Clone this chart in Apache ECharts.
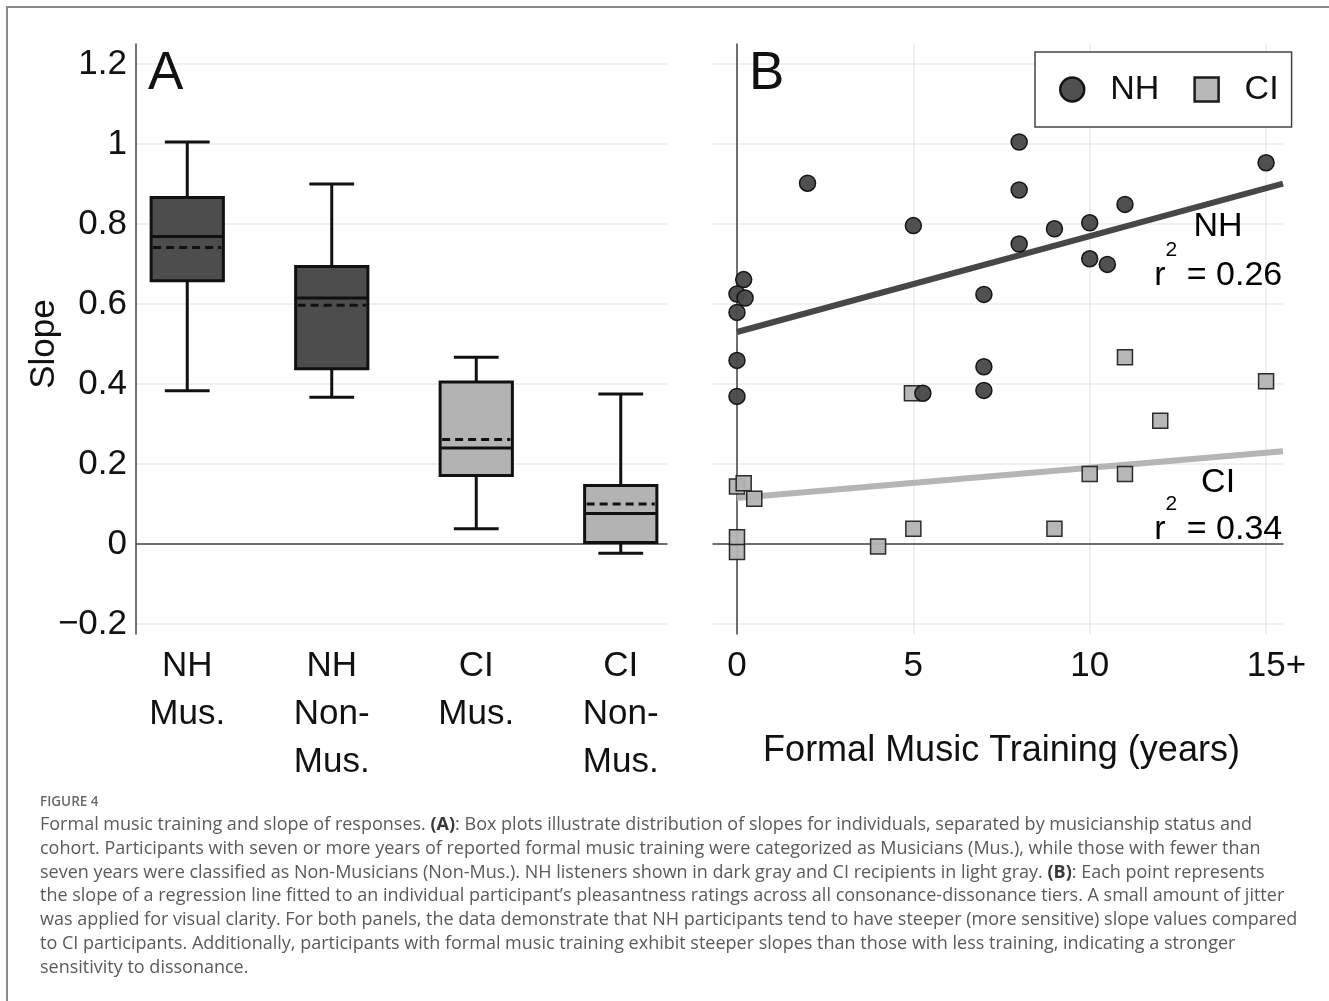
<!DOCTYPE html>
<html><head><meta charset="utf-8">
<script src="https://cdn.jsdelivr.net/npm/echarts@6/dist/echarts.min.js"></script>
<style>html,body{margin:0;padding:0;background:#fff}#c{width:1329px;height:1001px}</style>
</head><body><div id="c"></div>
<script>
// ---------- data ----------
const boxCategories = ['NH\nMus.', 'NH\nNon-\nMus.', 'CI\nMus.', 'CI\nNon-\nMus.'];
const boxCohort = ['NH', 'NH', 'CI', 'CI'];
const boxLow    = [0.383, 0.367, 0.038, -0.023];
const boxQ1     = [0.658, 0.438, 0.171, 0.004];
const boxMedian = [0.769, 0.615, 0.240, 0.076];
const boxQ3     = [0.866, 0.694, 0.405, 0.146];
const boxHigh   = [1.005, 0.900, 0.467, 0.375];
const boxMean   = [0.741, 0.597, 0.261, 0.100];

const nhYears  = [8, 2, 15, 8, 11, 5, 9, 10, 8, 10, 10.5, 0.19, 0, 0.23, 0, 7, 0, 7, 0, 7, 5.27];
const nhSlopes = [1.005, 0.902, 0.953, 0.885, 0.849, 0.796, 0.788, 0.803, 0.750, 0.713, 0.699, 0.661, 0.625, 0.615, 0.579, 0.624, 0.459, 0.443, 0.369, 0.384, 0.377];
const ciYears  = [11, 15, 4.96, 12, 10, 11, 0, 0.19, 0.49, 5, 9, 4, 0, 0];
const ciSlopes = [0.467, 0.407, 0.377, 0.308, 0.175, 0.175, 0.144, 0.152, 0.113, 0.038, 0.038, -0.006, 0.017, -0.020];

const nhFitYears = [0, 15.48];
const nhFitSlopes = [0.530, 0.901];
const ciFitYears = [0, 15.48];
const ciFitSlopes = [0.115, 0.232];

const fitNames = ['NH', 'CI'];
const fitR2 = ['0.26', '0.34'];

const slopeTickLabels = ['\u22120.2', '0', '0.2', '0.4', '0.6', '0.8', '1', '1.2'];
const yearTickLabels = ['0', '5', '10', '15+'];

// ---------- styles / layout ----------
const FONT = 'Liberation Sans';
const C = {
  ink: '#000', axis: '#444', grid: '#ebebeb',
  nhFill: '#4a4a4a', ciFill: '#b3b3b3',
  nhLine: '#474747', ciLine: '#b5b5b5'
};
const cohortFill = { NH: '#4d4d4d', CI: '#b3b3b3' };
// annotation anchors (data units of panel B)
const nameAnchorX = 13.64, nameAnchorY = [0.7925, 0.1525];
const r2AnchorY = [0.695, 0.059];

function renderBox(params, api) {
  const i = api.value(0);
  const lo = api.coord([i, api.value(1)]);
  const q1 = api.coord([i, api.value(2)]);
  const md = api.coord([i, api.value(3)]);
  const q3 = api.coord([i, api.value(4)]);
  const hi = api.coord([i, api.value(5)]);
  const mn = api.coord([i, api.value(6)]);
  const band = api.size([1, 0])[0];
  const bw = band * 0.5, cw = band * 0.31;
  const cx = lo[0];
  const fill = cohortFill[boxCohort[params.dataIndex]];
  const ls = { stroke: '#111', lineWidth: 3 };
  return {
    type: 'group', children: [
      { type: 'line', shape: { x1: cx, y1: q3[1], x2: cx, y2: hi[1] }, style: ls },
      { type: 'line', shape: { x1: cx, y1: q1[1], x2: cx, y2: lo[1] }, style: ls },
      { type: 'line', shape: { x1: cx - cw / 2, y1: hi[1], x2: cx + cw / 2, y2: hi[1] }, style: ls },
      { type: 'line', shape: { x1: cx - cw / 2, y1: lo[1], x2: cx + cw / 2, y2: lo[1] }, style: ls },
      { type: 'rect', shape: { x: cx - bw / 2, y: q3[1], width: bw, height: q1[1] - q3[1] }, style: { fill: fill, stroke: '#111', lineWidth: 3 } },
      { type: 'line', shape: { x1: cx - bw / 2, y1: md[1], x2: cx + bw / 2, y2: md[1] }, style: ls },
      { type: 'line', shape: { x1: cx - bw / 2 + 2, y1: mn[1], x2: cx + bw / 2 - 2, y2: mn[1] }, style: { stroke: '#111', lineWidth: 3, lineDash: [8, 5] } }
    ]
  };
}

const hiddenVal = (g) => ({ gridIndex: g, type: 'value', show: false, min: 0, max: 1 });
const frameLine = { show: true, onZero: true, lineStyle: { color: C.axis, width: 1.5 } };
const noTick = { show: false };
const noLabel = { show: false };
const noSplit = { show: false };
const gridSplit = { show: true, lineStyle: { color: C.grid, width: 1.5 } };

const caption =
  'Formal music training and slope of responses. {b|(A)}: Box plots illustrate distribution of slopes for individuals, separated by musicianship status and\n' +
  'cohort. Participants with seven or more years of reported formal music training were categorized as Musicians (Mus.), while those with fewer than\n' +
  'seven years were classified as Non-Musicians (Non-Mus.). NH listeners shown in dark gray and CI recipients in light gray. {b|(B)}: Each point represents\n' +
  'the slope of a regression line fitted to an individual participant\u2019s pleasantness ratings across all consonance-dissonance tiers. A small amount of jitter\n' +
  'was applied for visual clarity. For both panels, the data demonstrate that NH participants tend to have steeper (more sensitive) slope values compared\n' +
  'to CI participants. Additionally, participants with formal music training exhibit steeper slopes than those with less training, indicating a stronger\n' +
  'sensitivity to dissonance.';

const option = {
  animation: false,
  backgroundColor: '#fff',
  textStyle: { fontFamily: FONT },
  grid: [
    { left: 115, top: 44, width: 578, height: 590 },   // 0 A boxes
    { left: 136, top: 44, width: 531, height: 590 },   // 1 A frame
    { left: 136, top: 64, width: 531, height: 560 },   // 2 A ticks
    { left: 713, top: 44, width: 570, height: 590 },   // 3 B data
    { left: 713, top: 64, width: 570, height: 560 },   // 4 B horizontal grid
    { left: 737, top: 44, width: 529, height: 590 }    // 5 B vertical grid + ticks
  ],
  xAxis: [
    { gridIndex: 0, type: 'category', data: boxCategories, axisLine: { show: false }, axisTick: noTick, splitLine: noSplit,
      axisLabel: { interval: 0, fontSize: 35, lineHeight: 48, color: '#111', margin: 8, fontFamily: FONT } },
    { gridIndex: 1, type: 'value', min: 0, max: 1, z: 1, axisLine: frameLine, axisTick: noTick, axisLabel: noLabel, splitLine: noSplit },
    hiddenVal(2),
    { gridIndex: 3, type: 'value', min: -0.68, max: 15.48, z: 1, axisLine: frameLine, axisTick: noTick, axisLabel: noLabel, splitLine: noSplit },
    hiddenVal(4),
    { gridIndex: 5, type: 'value', min: 0, max: 15, interval: 5, z: 0,
      axisLine: { show: false, onZero: false }, axisTick: noTick, splitLine: gridSplit,
      axisLabel: { fontSize: 35, lineHeight: 48, color: '#111', margin: 8, fontFamily: FONT,
        formatter: v => {
          const s = yearTickLabels[Math.round(v / 5)];
          return s.endsWith('+') ? '{p|' + s + '}' : s;
        },
        rich: { p: { fontSize: 35, lineHeight: 48, color: '#111', fontFamily: FONT, padding: [0, 0, 0, 21] } } },
      name: 'Formal Music Training (years)', nameLocation: 'middle', nameGap: 99, nameMoveOverlap: false,
      nameTextStyle: { fontSize: 36, color: '#111', fontFamily: FONT, lineHeight: 36 } }
  ],
  yAxis: [
    { gridIndex: 0, type: 'value', min: -0.225, max: 1.25, show: false },
    { gridIndex: 1, type: 'value', min: -0.225, max: 1.25, z: 1, axisLine: { show: true, onZero: false, lineStyle: { color: C.axis, width: 1.5 } }, axisTick: noTick, axisLabel: noLabel, splitLine: noSplit },
    { gridIndex: 2, type: 'value', min: -0.2, max: 1.2, interval: 0.2, z: 0,
      axisLine: { show: false }, axisTick: noTick, splitLine: gridSplit,
      axisLabel: { fontSize: 35, color: '#111', margin: 9, fontFamily: FONT,
        formatter: v => slopeTickLabels[Math.round((v + 0.2) / 0.2)] },
      name: 'Slope', nameLocation: 'middle', nameRotate: 90, nameGap: 74, nameMoveOverlap: false,
      nameTextStyle: { fontSize: 35, color: '#111', fontFamily: FONT } },
    { gridIndex: 3, type: 'value', min: -0.225, max: 1.25, z: 1, axisLine: frameLine, axisTick: noTick, axisLabel: noLabel, splitLine: noSplit },
    { gridIndex: 4, type: 'value', min: -0.2, max: 1.2, interval: 0.2, z: 0, axisLine: { show: false }, axisTick: noTick, axisLabel: noLabel, splitLine: gridSplit },
    { gridIndex: 5, type: 'value', min: -0.225, max: 1.25, show: false }
  ],
  legend: {
    data: [
      { name: 'NH', icon: 'circle', itemStyle: { color: C.nhFill, borderColor: '#111', borderWidth: 2.5 } },
      { name: 'CI', icon: 'rect', itemStyle: { color: C.ciFill, borderColor: '#111', borderWidth: 2.5 } }
    ],
    left: 1035, top: 52, orient: 'horizontal', itemWidth: 24, itemHeight: 24, itemGap: 34,
    padding: [19, 13, 19, 24], borderColor: '#444', borderWidth: 1.5, borderRadius: 0,
    backgroundColor: '#fff', selectedMode: false, z: 5,
    textStyle: { fontSize: 34, fontFamily: FONT, color: '#111', lineHeight: 34, padding: [3, 0, 0, 21] }
  },
  series: [
    { type: 'custom', name: 'boxes', xAxisIndex: 0, yAxisIndex: 0, renderItem: renderBox, silent: true,
      encode: { x: 0, y: [1, 2, 3, 4, 5, 6] },
      data: boxCategories.map((c, i) => [i, boxLow[i], boxQ1[i], boxMedian[i], boxQ3[i], boxHigh[i], boxMean[i]]) },
    { type: 'line', name: 'NH fit', xAxisIndex: 3, yAxisIndex: 3, symbol: 'none', silent: true, z: 2,
      lineStyle: { color: C.nhLine, width: 6, cap: 'butt' },
      data: nhFitYears.map((x, i) => [x, nhFitSlopes[i]]) },
    { type: 'line', name: 'CI fit', xAxisIndex: 3, yAxisIndex: 3, symbol: 'none', silent: true, z: 2,
      lineStyle: { color: C.ciLine, width: 6, cap: 'butt' },
      data: ciFitYears.map((x, i) => [x, ciFitSlopes[i]]) },
    { type: 'scatter', name: 'CI', xAxisIndex: 3, yAxisIndex: 3, symbol: 'rect', symbolSize: 15, z: 3,
      itemStyle: { color: C.ciFill, borderColor: '#222', borderWidth: 1.5, opacity: 0.95 },
      data: ciYears.map((x, i) => [x, ciSlopes[i]]) },
    { type: 'scatter', name: 'NH', xAxisIndex: 3, yAxisIndex: 3, symbol: 'circle', symbolSize: 16, z: 4,
      itemStyle: { color: C.nhFill, borderColor: '#111', borderWidth: 1.5, opacity: 0.97 },
      data: nhYears.map((x, i) => [x, nhSlopes[i]]) },
    { type: 'scatter', name: 'fit names', xAxisIndex: 3, yAxisIndex: 3, symbolSize: 1, silent: true, z: 5,
      itemStyle: { color: 'rgba(0,0,0,0)' },
      label: { show: true, position: 'inside', formatter: p => p.value[2], fontSize: 34, color: '#000', opacity: 1,
        textBorderWidth: 0, fontFamily: FONT },
      data: fitNames.map((n, i) => [nameAnchorX, nameAnchorY[i], n]) },
    { type: 'scatter', name: 'fit r2', xAxisIndex: 3, yAxisIndex: 3, symbolSize: 1, silent: true, z: 5,
      itemStyle: { color: 'rgba(0,0,0,0)' },
      label: { show: true, position: 'inside', color: '#000', opacity: 1, textBorderWidth: 0,
        formatter: p => '{h| }{t|r}{s|2}{t| = ' + p.value[2] + '}',
        rich: {
          h: { fontSize: 1, lineHeight: 53 },
          t: { fontSize: 34, lineHeight: 34, verticalAlign: 'bottom', color: '#000', fontFamily: FONT, textBorderWidth: 0 },
          s: { fontSize: 21, lineHeight: 21, verticalAlign: 'top', color: '#000', fontFamily: FONT, textBorderWidth: 0 }
        } },
      data: fitR2.map((r, i) => [nameAnchorX, r2AnchorY[i], r]) }
  ],
  graphic: [
    { type: 'line', shape: { x1: 7, y1: 7, x2: 1329, y2: 7 }, style: { stroke: '#8a8a8a', lineWidth: 2 }, silent: true },
    { type: 'line', shape: { x1: 7, y1: 6, x2: 7, y2: 1001 }, style: { stroke: '#8a8a8a', lineWidth: 2 }, silent: true },
    { type: 'text', x: 148, y: 74, silent: true, z: 10,
      style: { text: 'A', fontSize: 53, fontFamily: FONT, fill: '#111', textAlign: 'left', textVerticalAlign: 'middle' } },
    { type: 'text', x: 749, y: 74, silent: true, z: 10,
      style: { text: 'B', fontSize: 53, fontFamily: FONT, fill: '#111', textAlign: 'left', textVerticalAlign: 'middle' } },
    { type: 'text', x: 40, y: 802, silent: true,
      style: { text: 'FIGURE 4', fontSize: 13.5, fontWeight: 600, fontFamily: 'Open Sans', fill: '#6a6a6a', textAlign: 'left', textVerticalAlign: 'middle' } },
    { type: 'text', x: 40, y: 813, silent: true,
      style: { text: caption, fontSize: 18, fontFamily: 'Open Sans', fill: '#5a5a5a', lineHeight: 23.8, textAlign: 'left', textVerticalAlign: 'top',
        rich: { b: { fontWeight: 'bold', fontSize: 18, fontFamily: 'Open Sans', fill: '#3a3a3a', lineHeight: 23.8 } } } }
  ]
};

const chart = echarts.init(document.getElementById('c'), null, { renderer: 'canvas' });
chart.setOption(option);
</script>
</body></html>
